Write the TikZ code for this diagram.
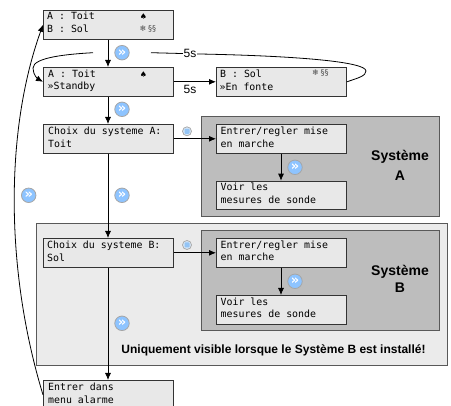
\documentclass[tikz,border=0pt]{standalone}
\usepackage{fontspec}
\setmainfont{Liberation Sans}
\newfontfamily\lcdfont{DejaVu Sans Mono}
\newfontfamily\symfont{DejaVu Sans}
\usetikzlibrary{arrows.meta}
\definecolor{iconblue}{HTML}{8EC4FF}
\definecolor{okring}{HTML}{D5E6F7}
\definecolor{okdot}{HTML}{93C4F5}
\tikzset{
  x=1pt,y=-1pt,
  lcdbox/.style={draw=black!80,line width=.9pt,fill=black!9,minimum width=130pt,minimum height=28.7pt,inner sep=0pt,anchor=north west},
  lcdtext/.style={font=\lcdfont\fontsize{9.9}{10}\selectfont,anchor=base west,inner sep=0pt},
  panel/.style={draw=black!65,line width=.9pt,fill=black!26},
  band/.style={draw=black!65,line width=.9pt,fill=black!8},
  conn/.style={draw=black,line width=.8pt,-{Latex[length=7pt,width=6pt]}},
  plainconn/.style={draw=black,line width=.8pt},
  nexticon/.style={circle,draw=black!35,line width=.8pt,fill=iconblue,minimum size=14.5pt,inner sep=0pt,text=white,font=\symfont\bfseries\fontsize{13}{13}\selectfont},
  okicon/.style={circle,draw=black!35,line width=.7pt,fill=okring,minimum size=9pt,inner sep=0pt},
  sysl/.style={font=\bfseries\fontsize{14}{14}\selectfont,inner sep=0pt},
  symb/.style={font=\symfont\fontsize{8}{8}\selectfont,inner sep=0pt},
  fivesec/.style={font=\fontsize{12}{12}\selectfont,inner sep=1pt}
}
\begin{document}
\begin{tikzpicture}
\useasboundingbox (0,0) rectangle (451,406);
\clip (0,0) rectangle (451,406);
% backgrounds
\draw[band] (36,223.5) rectangle (447,365.5);
\draw[panel] (201.5,116.7) rectangle (439.5,216.7);
\draw[panel] (201.5,230.7) rectangle (439.5,330.7);
% boxes
\node[lcdbox] (top) at (43,10) {};
\node[lcdbox] (standby) at (43,67) {};
\node[lcdbox] (fonte) at (216,67) {};
\node[lcdbox] (choixa) at (43,124) {};
\node[lcdbox] (entrera) at (216,124) {};
\node[lcdbox] (voira) at (216,180.7) {};
\node[lcdbox] (choixb) at (43,238) {};
\node[lcdbox] (entrerb) at (216,238) {};
\node[lcdbox] (voirb) at (216,295) {};
\node[lcdbox] (alarme) at (43,380) {};
% texts
\node[lcdtext] at (47,20) {A : Toit};
\node[lcdtext] at (47,32.5) {B : Sol};
\node[lcdtext] at (48,78) {A : Toit};
\node[lcdtext] at (47.5,90) {»Standby};
\node[lcdtext] at (220,78) {B : Sol};
\node[lcdtext] at (219.5,90.5) {»En fonte};
\node[lcdtext] at (48,134.5) {Choix du systeme A:};
\node[lcdtext] at (48,147.5) {Toit};
\node[lcdtext] at (220.5,134.5) {Entrer/regler mise};
\node[lcdtext] at (220.5,147.5) {en marche};
\node[lcdtext] at (220.5,191) {Voir les};
\node[lcdtext] at (220.5,203.5) {mesures de sonde};
\node[lcdtext] at (47,248.5) {Choix du systeme B:};
\node[lcdtext] at (47,261.5) {Sol};
\node[lcdtext] at (220.5,248.5) {Entrer/regler mise};
\node[lcdtext] at (220.5,260.5) {en marche};
\node[lcdtext] at (220.5,305.5) {Voir les};
\node[lcdtext] at (220.5,318) {mesures de sonde};
\node[lcdtext] at (48,390.5) {Entrer dans};
\node[lcdtext] at (48,403.5) {menu alarme};
% symbols
\node[symb] at (143.5,16.5) {♠};
\node[symb] at (143.5,74.5) {♠};
\node[symb,text=black!70] (snowa) at (143,28.5) {❄};
\node[symb,text=black!70] at (152,28.5) {§§};
\node[symb,text=black!70] (snowb) at (315.5,73) {❄};
\node[symb,text=black!70] at (324.5,73) {§§};
% icons
\node[nexticon] (n1) at (122,52.7) {»};
\node[nexticon] (n2) at (122,109.3) {»};
\node[nexticon] (n3) at (122,195.3) {»};
\node[nexticon] (n4) at (28.7,195.3) {»};
\node[nexticon] (n5) at (122,323.3) {»};
\node[nexticon] (n6) at (295,167.3) {»};
\node[nexticon] (n7) at (295,281.3) {»};
\node[okicon] (o1) at (187,131.3) {};
\node[okicon] (o2) at (187,245) {};
\fill[okdot,rounded corners=.8pt] (184.5,128.8) rectangle (189.5,133.8);
\fill[okdot,rounded corners=.8pt] (184.5,242.5) rectangle (189.5,247.5);
% connectors
\draw[conn] (top.south -| 108,0) -- (standby.north -| 108,0);
\draw[conn] (standby.south -| 108,0) -- (choixa.north -| 108,0);
\draw[conn] (choixa.south -| 108,0) -- (choixb.north -| 108,0);
\draw[conn] (choixb.south -| 108,0) -- (alarme.north -| 108,0);
\draw[conn] (standby.east) -- (fonte.west);
\draw[conn] (choixa.east) -- (entrera.west);
\draw[conn] (choixb.east) -- (entrerb.west);
\draw[conn] (entrera.south -| 281,0) -- (voira.north -| 281,0);
\draw[conn] (entrerb.south -| 281,0) -- (voirb.north -| 281,0);
\coordinate (loopa) at (151,52.7);
\coordinate (loopb) at (93,52.7);
\draw[plainconn] (fonte.east) .. controls (358,78) and (366,76) .. (366,71) .. controls (366,62) and (300,56) .. (200,54) -- (loopa);
\draw[conn] (loopb) .. controls (70,54) and (33,57) .. (33,68) .. controls (33,75) and (38,79) .. (standby.west);
\draw[conn] (alarme.west) .. controls (5,270) and (5,130) .. (top.west);
\node[fivesec,fill=white] at (190,53.5) {5s};
\node[fivesec] at (190,89) {5s};
% labels
\node[sysl] at (400,157) {Système};
\node[sysl] at (400,175.7) {A};
\node[sysl] at (400,272) {Système};
\node[sysl] at (400,288) {B};
\node[font=\bfseries\fontsize{12}{12}\selectfont,inner sep=0pt] at (273.5,350.7) {Uniquement visible lorsque le Système B est installé!};
\end{tikzpicture}
\end{document}
